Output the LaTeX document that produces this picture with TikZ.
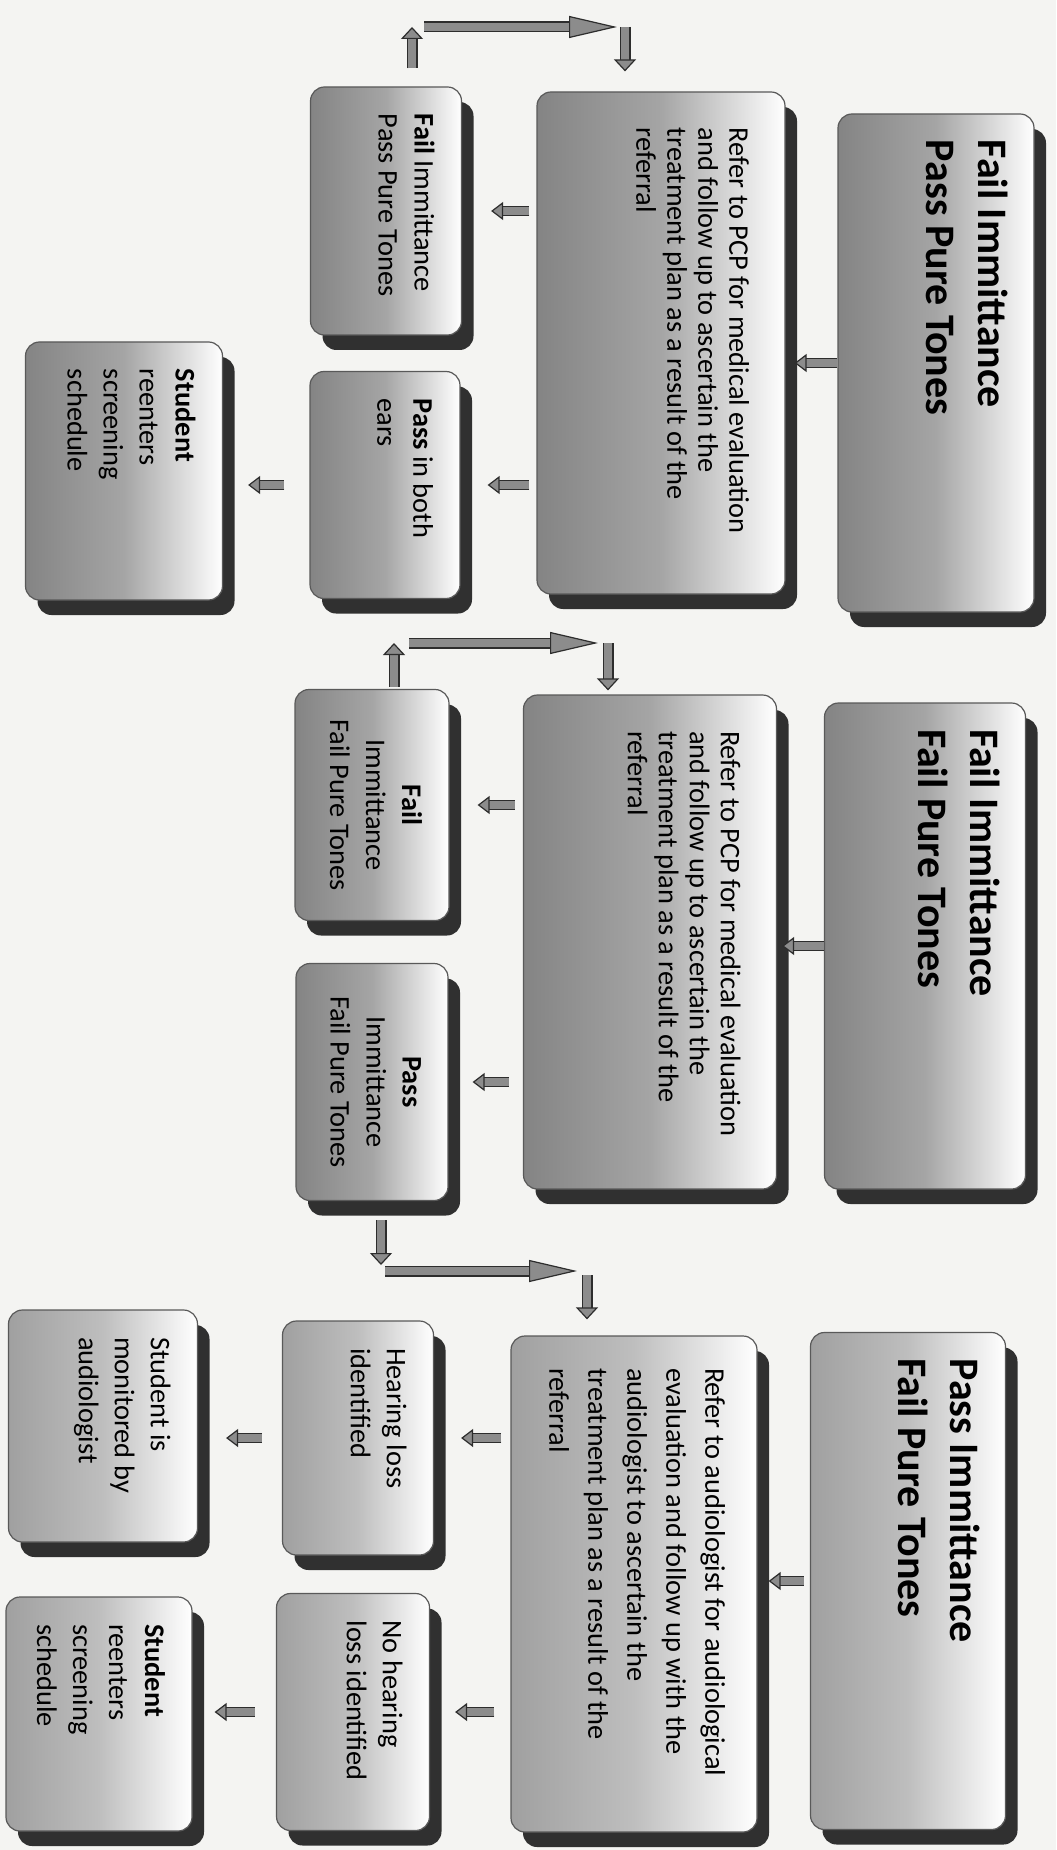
\documentclass[tikz,border=0pt]{standalone}
\usepackage{fontspec}
\setmainfont{Carlito}
\usetikzlibrary{arrows.meta, shadows}
\definecolor{paper}{RGB}{244, 244, 242}
\definecolor{boxgray}{RGB}{132, 132, 132}
\definecolor{boxmid}{RGB}{165, 165, 165}
\definecolor{palegray}{RGB}{160, 160, 160}
\definecolor{palemid}{RGB}{190, 190, 190}
\definecolor{shadowgray}{RGB}{48, 48, 48}
\definecolor{arrowgray}{RGB}{140, 140, 140}
\definecolor{edgegray}{RGB}{45, 45, 45}
% text area of a box: width, height, text (top aligned)
\newcommand{\boxtext}[3]{\parbox[c][#2][t]{#1}{\raggedright #3}}

\begin{document}
\begin{tikzpicture}[
  x=0.5pt, y=-0.5pt,
  box/.style={rotate=-90, draw=black!65, line width=0.6pt, rounded corners=7pt,
              left color=boxgray, right color=white, middle color=boxmid,
              drop shadow={shadow xshift=6pt, shadow yshift=-7.5pt,
                           fill=shadowgray, opacity=1},
              inner sep=13.5pt, font=\fontsize{14.2}{18}\selectfont},
  pale/.style={left color=palegray, right color=white, middle color=palemid},
  hdrbox/.style={box, inner sep=13pt, font=\fontsize{21}{26}\selectfont\bfseries},
  refbox/.style={box, inner sep=18pt, font=\fontsize{14.2}{15.5}\selectfont},
  blk/.style={draw=edgegray, line width=0.6pt, double=arrowgray, double distance=3.8pt,
              -{Triangle[length=6pt, width=9pt, line width=0.6pt, fill=arrowgray]}},
  bigblk/.style={blk, double distance=4.3pt,
                 -{Triangle[length=#1, width=11pt, line width=0.6pt, fill=arrowgray]}},
  bigblk/.default=6pt
]
  \fill[paper] (0,0) rectangle (1056,1850);
  \useasboundingbox (0,0) rectangle (1056,1850);

  % Fail Immittance / Pass Pure Tones
  \node[hdrbox] (hdrA) at (936,363) {\boxtext{223pt}{72pt}{Fail Immittance\\Pass Pure Tones}};
  \node[refbox] (refA) at (661,343) {\boxtext{215pt}{88pt}{Refer to PCP for medical evaluation\\and follow up to ascertain the\\treatment plan as a result of the\\referral}};
  \node[box] (fipA) at (386,211) {\boxtext{97pt}{48.5pt}{\textbf{Fail} Immittance\\Pass Pure Tones}};
  \node[box] (pbA)  at (385,485) {\boxtext{86.5pt}{48pt}{\textbf{Pass} in both\\ears}};
  \node[box] (srA)  at (124,471) {\boxtext{102pt}{71.5pt}{\textbf{Student}\\reenters\\screening\\schedule}};

  % Fail Immittance / Fail Pure Tones
  \node[hdrbox] (hdrB) at (925,946) {\boxtext{217pt}{74.5pt}{Fail Immittance\\Fail Pure Tones}};
  \node[refbox] (refB) at (650,942) {\boxtext{211pt}{90.5pt}{Refer to PCP for medical evaluation\\and follow up to ascertain the\\treatment plan as a result of the\\referral}};
  \node[box] (fifB) at (372,805)  {\boxtext{88.5pt}{50pt}{\centering\textbf{Fail}\\Immittance\\Fail Pure Tones}};
  \node[box] (pifB) at (372,1082) {\boxtext{91.5pt}{49pt}{\centering\textbf{Pass}\\Immittance\\Fail Pure Tones}};

  % Pass Immittance / Fail Pure Tones
  \node[hdrbox, pale] (hdrC) at (908,1581) {\boxtext{222.5pt}{71.5pt}{Pass Immittance\\Fail Pure Tones}};
  \node[refbox, pale, inner sep=16pt, font=\fontsize{14.2}{19.5}\selectfont] (refC) at (634,1584)
    {\boxtext{216pt}{91pt}{Refer to audiologist for audiological\\evaluation and follow up with the\\audiologist to ascertain the\\treatment plan as a result of the\\referral}};
  \node[box, pale] (hlC) at (358,1438) {\boxtext{90pt}{48.5pt}{Hearing loss\\identified}};
  \node[box, pale] (nhC) at (353,1712) {\boxtext{91.5pt}{49.5pt}{No hearing\\loss identified}};
  \node[box, pale] (smC) at (103,1426) {\boxtext{89pt}{67.5pt}{Student is\\monitored by\\audiologist}};
  \node[box, pale] (srC) at (99,1714)  {\boxtext{90pt}{66pt}{\textbf{Student}\\reenters\\screening\\schedule}};

  % loop corners
  \coordinate (lpA) at (412,27);
  \coordinate (rpA) at (625,27);
  \coordinate (lpB) at (394,643);
  \coordinate (rpB) at (608,643);
  \coordinate (lpC) at (381,1271);
  \coordinate (rpC) at (587,1271);

  \draw[blk, shorten >=4.5pt] (hdrA.south) -- (hdrA.south -| refA.north);
  \draw[blk, shorten <=3.5pt, shorten >=14.5pt] (refA.south |- fipA) -- (fipA.north);
  \draw[blk, shorten <=3.5pt, shorten >=13.5pt] (refA.south |- pbA) -- (pbA.north);
  \draw[blk, shorten <=12.5pt, shorten >=12.5pt] (pbA.south) -- (pbA.south -| srA.north);
  \draw[bigblk, shorten <=9pt] (lpA |- fipA.west) -- (lpA);
  \draw[bigblk=24pt, shorten <=6pt, shorten >=4pt] (lpA) -- (rpA);
  \draw[bigblk, shorten >=10pt] (rpA) -- (rpA |- refA.west);

  \draw[blk, shorten >=2.5pt] (hdrB.south) -- (hdrB.south -| refB.north);
  \draw[blk, shorten <=4pt, shorten >=14pt] (refB.south |- fifB) -- (fifB.north);
  \draw[blk, shorten <=7pt, shorten >=12pt] (refB.south |- pifB) -- (pifB.north);
  \draw[bigblk, shorten <=1pt] (lpB |- fifB.west) -- (lpB);
  \draw[bigblk=24pt, shorten <=7.5pt, shorten >=5pt] (lpB) -- (rpB);
  \draw[bigblk, shorten >=2pt] (rpB) -- (rpB |- refB.west);

  \draw[bigblk, shorten <=9.5pt, shorten >=3pt] (pifB.east -| lpC) -- (lpC);
  \draw[bigblk=24pt, shorten <=2pt, shorten >=5pt] (lpC) -- (rpC);
  \draw[bigblk, shorten <=2pt, shorten >=8pt] (rpC) -- (rpC |- refC.west);
  \draw[blk, shorten <=3pt, shorten >=5.5pt] (hdrC.south) -- (hdrC.south -| refC.north);
  \draw[blk, shorten <=4.5pt, shorten >=13.5pt] (refC.south |- hlC) -- (hlC.north);
  \draw[blk, shorten <=8pt, shorten >=12.5pt] (refC.south |- nhC) -- (nhC.north);
  \draw[blk, shorten <=10pt, shorten >=14pt] (hlC.south) -- (hlC.south -| smC.north);
  \draw[blk, shorten <=10.5pt, shorten >=11pt] (nhC.south) -- (nhC.south -| srC.north);
\end{tikzpicture}
\end{document}
